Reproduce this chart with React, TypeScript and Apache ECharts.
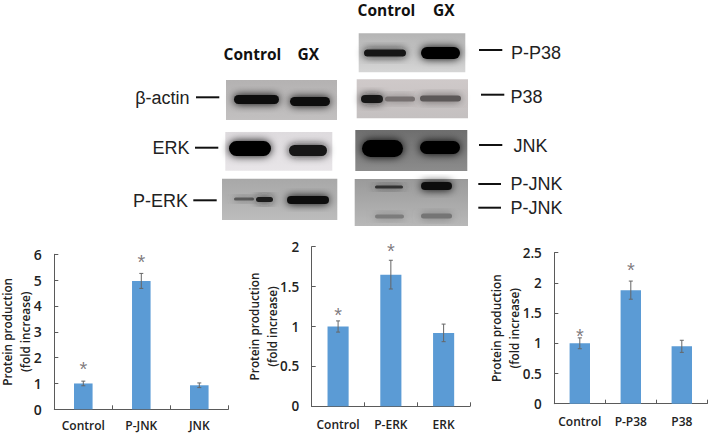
import React, { useEffect, useRef } from "react";
import * as echarts from "echarts";

const jnkCategories = ["Control", "P-JNK", "JNK"];
const jnkValues = [1, 4.97, 0.93];
const jnkErrors = [0.09, 0.29, 0.09];
const jnkStars = [1.72, 5.85, null];
const jnkTicks = { max: 6, interval: 1 };

const erkCategories = ["Control", "P-ERK", "ERK"];
const erkValues = [1, 1.65, 0.92];
const erkErrors = [0.07, 0.18, 0.11];
const erkStars = [1.2, 1.99, null];
const erkTicks = { max: 2, interval: 0.5 };

const p38Categories = ["Control", "P-P38", "P38"];
const p38Values = [1, 1.88, 0.95];
const p38Errors = [0.09, 0.15, 0.1];
const p38Stars = [1.19, 2.28, null];
const p38Ticks = { max: 2.5, interval: 0.5 };

const UI = "'Open Sans', 'Noto Sans', sans-serif";
const AR = "'Liberation Sans', Arial, sans-serif";

const panels = [
  { cats: jnkCategories, vals: jnkValues, errs: jnkErrors, stars: jnkStars, t: jnkTicks, left: 54.3, top: 254.3, w: 174, h: 155, barW: "32%", gap: 20, fs: 14, nameFs: 11.8, labelGap: 10.5 },
  { cats: erkCategories, vals: erkValues, errs: erkErrors, stars: erkStars, t: erkTicks, left: 311.7, top: 246.7, w: 158.3, h: 159.6, barW: "40%", gap: 30, fs: 13.5, nameFs: 11.8, labelGap: 12 },
  { cats: p38Categories, vals: p38Values, errs: p38Errors, stars: p38Stars, t: p38Ticks, left: 554.3, top: 252.7, w: 153, h: 151, barW: "40%", gap: 31, fs: 13.5, nameFs: 11.8, labelGap: 12 },
];

// x, y, w, h, top colour, bottom colour
const blotBoxes: [number, number, number, number, string, string][] = [
  [226, 80, 111, 40, "#b4b2b2", "#c2c0c0"],
  [225.3, 132, 107, 38.7, "#dedbde", "#e8e5e8"],
  [222, 178.7, 115.3, 41.3, "#a8a8a8", "#bcbcbc"],
  [358.7, 33.3, 106.6, 39, "#b4b4b4", "#d6d6d6"],
  [356.7, 79.3, 111.3, 39, "#cfc9c9", "#c4c0c0"],
  [355.3, 130, 112, 41, "#6e6e6e", "#8c8c8c"],
  [354.7, 179, 113.3, 47, "#9a9a9a", "#b8b8b8"],
];

// x, y, w, h, colour
const blotBands: [number, number, number, number, string][] = [
  [234, 95, 45, 9, "#0c0c0c"],
  [290, 97, 40, 9, "#0e0e0e"],
  [229, 141, 42, 15, "#060606"],
  [289, 145, 38, 11, "#161616"],
  [234, 197.5, 20, 3, "#5a5a5a"],
  [256, 197, 17, 5, "#1e1e1e"],
  [287, 196, 42, 8, "#101010"],
  [364, 49.5, 42, 7, "#161616"],
  [421, 47, 39, 12, "#040404"],
  [361, 95, 22, 8, "#181818"],
  [385, 96.5, 30, 5, "#767070"],
  [420, 95.5, 41, 6, "#5c5858"],
  [362, 140, 41, 17, "#020202"],
  [420, 141, 40, 13, "#050505"],
  [375, 185.5, 28, 3, "#303030"],
  [421, 182, 31, 8, "#0a0a0a"],
  [375, 214.5, 29, 4, "#7c7c7c"],
  [421, 213.5, 31, 5, "#747474"],
];

// x1, x2, y
const blotRules: [number, number, number][] = [
  [196, 219.3, 97.3], [195, 218.3, 147.7], [193.3, 216.7, 200.3],
  [479, 502.3, 50], [481, 504.3, 94.7], [479, 502.3, 145], [478.3, 501, 184], [478.3, 501, 207.7],
];

// text, x, y, align
const blotLabels: [string, number, number, "left" | "right"][] = [
  ["β-actin", 189.5, 98, "right"], ["ERK", 189.5, 148, "right"], ["P-ERK", 188, 201, "right"],
  ["P-P38", 511, 52.7, "left"], ["P38", 510.5, 96.7, "left"], ["JNK", 513.5, 146, "left"],
  ["P-JNK", 510.5, 184, "left"], ["P-JNK", 510.5, 208, "left"],
];

const headers: [string, number, number][] = [
  ["Control", 223.5, 54], ["GX", 297.5, 54], ["Control", 357.5, 10], ["GX", 433, 10],
];

function buildGraphic() {
  const out: any[] = [];
  blotBoxes.forEach(([x, y, width, height, c1, c2]) => {
    out.push({
      type: "rect", silent: true, shape: { x, y, width, height },
      style: { fill: { type: "linear", x: 0, y: 0, x2: 0, y2: 1, colorStops: [{ offset: 0, color: c1 }, { offset: 1, color: c2 }] } },
    });
  });
  blotBands.forEach(([x, y, width, height, color]) => {
    out.push({
      type: "rect", silent: true, shape: { x, y, width, height, r: height / 2 },
      style: { fill: color, shadowBlur: 8, shadowColor: color },
    });
  });
  blotRules.forEach(([x1, x2, y]) => {
    out.push({ type: "line", silent: true, shape: { x1, y1: y, x2, y2: y }, style: { stroke: "#111", lineWidth: 2 } });
  });
  blotLabels.forEach(([text, x, y, align]) => {
    out.push({ type: "text", silent: true, x, y, style: { text, font: `18px ${AR}`, fill: "#222", textAlign: align, textVerticalAlign: "middle" } });
  });
  headers.forEach(([text, x, y]) => {
    out.push({ type: "text", silent: true, x, y, style: { text, font: `bold 15.5px ${UI}`, fill: "#111", textAlign: "left", textVerticalAlign: "middle" } });
  });
  return out;
}

function buildOption() {
  const axisLine = { lineStyle: { color: "#5a5a5a", width: 1 } };
  return {
    animation: false,
    backgroundColor: "#fff",
    graphic: buildGraphic(),
    grid: panels.map((p) => ({ left: p.left, top: p.top, width: p.w, height: p.h, outerBoundsMode: "none" })),
    xAxis: panels.map((p, i) => ({
      type: "category", gridIndex: i, data: p.cats,
      axisLine, axisTick: { show: true, inside: true, length: 4, alignWithLabel: false, lineStyle: { color: "#5a5a5a" } },
      axisLabel: { color: "#222", fontFamily: UI, fontWeight: 600, fontSize: 12, margin: p.labelGap, interval: 0 },
      splitLine: { show: false },
    })),
    yAxis: panels.map((p, i) => ({
      type: "value", gridIndex: i, min: 0, max: p.t.max, interval: p.t.interval,
      name: "Protein production\n(fold increase)", nameLocation: "middle", nameRotate: 90, nameGap: p.gap, nameMoveOverlap: false,
      nameTextStyle: { color: "#222", fontFamily: UI, fontWeight: 600, fontSize: p.nameFs, lineHeight: 18.5 },
      axisLine: { show: true, ...axisLine },
      axisTick: { show: true, inside: true, length: 4, lineStyle: { color: "#5a5a5a" } },
      axisLabel: { color: "#222", fontFamily: UI, fontWeight: 600, fontSize: p.fs, margin: 12.5 },
      splitLine: { show: false },
    })),
    series: panels.flatMap((p, i) => [
      {
        type: "bar", xAxisIndex: i, yAxisIndex: i, data: p.vals, barWidth: p.barW,
        itemStyle: { color: "#5b9bd5" }, silent: true,
      },
      {
        type: "custom", xAxisIndex: i, yAxisIndex: i, silent: true, z: 5,
        data: p.vals.map((v, j) => [j, v - p.errs[j], v + p.errs[j]]),
        renderItem: (_: any, api: any) => {
          const lo = api.coord([api.value(0), api.value(1)]);
          const hi = api.coord([api.value(0), api.value(2)]);
          const style = { stroke: "#666", lineWidth: 1, fill: "none" };
          return {
            type: "group",
            children: [
              { type: "line", shape: { x1: lo[0], y1: lo[1], x2: hi[0], y2: hi[1] }, style },
              { type: "line", shape: { x1: lo[0] - 2, y1: lo[1], x2: lo[0] + 2, y2: lo[1] }, style },
              { type: "line", shape: { x1: hi[0] - 2, y1: hi[1], x2: hi[0] + 2, y2: hi[1] }, style },
            ],
          };
        },
      },
      {
        type: "scatter", xAxisIndex: i, yAxisIndex: i, silent: true, symbol: "circle", symbolSize: 1, z: 6,
        itemStyle: { color: "transparent" },
        data: p.stars.map((s, j) => [j, s]).filter((d) => d[1] != null),
        label: { show: true, position: "inside", offset: [0, 4], formatter: "*", fontFamily: AR, fontSize: 20, color: "#5f5a60" },
      },
    ]),
  };
}

export default function App() {
  const ref = useRef<HTMLDivElement>(null);
  useEffect(() => {
    document.body.style.margin = "0";
    const chart = echarts.init(ref.current!, undefined, { renderer: "svg" });
    chart.setOption(buildOption() as any);
    return () => chart.dispose();
  }, []);
  return <div ref={ref} style={{ width: 708, height: 434 }} />;
}
